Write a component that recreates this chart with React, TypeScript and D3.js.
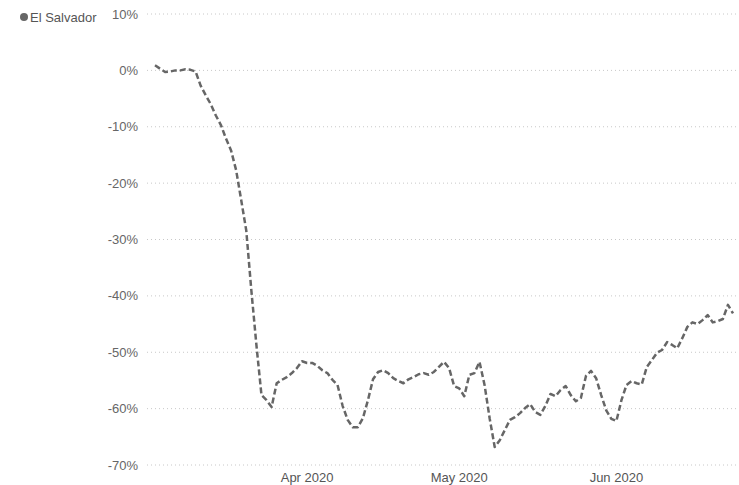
import React, { useRef, useEffect } from "react";
import * as d3 from "d3";

const seriesName = "El Salvador";
const startDate = new Date(2020, 2, 2);
// daily change vs baseline, in %
const values = [
  0.9, 0.3, -0.3, -0.2, 0.0, 0.0, 0.2, 0.1, -0.2, -2.7,
  -4.4, -6.0, -8.0, -9.7, -12.1, -14.2, -17.7, -23.0, -28.4, -39.0,
  -48.7, -57.6, -58.5, -59.7, -55.5, -54.9, -54.4, -53.7, -52.8, -51.6,
  -51.9, -51.9, -52.4, -53.2, -53.7, -54.9, -55.8, -59.5, -62.0, -63.3,
  -63.3, -61.7, -58.5, -54.8, -53.5, -53.2, -53.7, -54.6, -55.1, -55.5,
  -54.8, -54.4, -53.9, -53.7, -54.0, -53.5, -52.6, -51.7, -52.8, -56.0,
  -56.4, -57.8, -54.0, -53.7, -51.7, -55.8, -61.7, -66.8, -65.6, -63.8,
  -62.0, -61.5, -60.8, -59.9, -59.2, -60.6, -61.1, -59.5, -57.4, -57.8,
  -56.7, -56.0, -57.6, -58.7, -58.1, -54.2, -53.3, -54.6, -57.6, -60.3,
  -61.8, -62.2, -58.5, -55.8, -55.1, -55.5, -55.7, -52.6, -51.4, -50.1,
  -49.6, -48.2, -48.7, -49.3, -47.5, -45.5, -44.7, -45.0, -44.3, -43.4,
  -44.7, -44.5, -44.1, -41.6, -43.1,
];
const yTicks = [10, 0, -10, -20, -30, -40, -50, -60, -70];
const xTickDates = [new Date(2020, 3, 1), new Date(2020, 4, 1), new Date(2020, 5, 1)];
const xTickLabels = ["Apr 2020", "May 2020", "Jun 2020"];

const App: React.FC = () => {
  const chartRef = useRef<SVGSVGElement | null>(null);

  useEffect(() => {
    if (!chartRef.current) return;
    const svg = d3.select(chartRef.current);
    svg.selectAll("*").remove();

    const width = 739;
    const height = 485;
    const font = "'Liberation Sans', Arial, sans-serif";

    const data = values.map((v, i) => ({ date: d3.timeDay.offset(startDate, i), value: v }));

    const x = d3
      .scaleTime()
      .domain([data[0].date, data[data.length - 1].date])
      .range([155, 733]);

    const y = d3.scaleLinear().domain([-70, 10]).range([465, 14]);

    // gridlines + y labels
    const yg = svg.append("g");
    yg.selectAll("line")
      .data(yTicks)
      .join("line")
      .attr("x1", 147)
      .attr("x2", width)
      .attr("y1", (d) => y(d))
      .attr("y2", (d) => y(d))
      .attr("stroke", "#c8c8c8")
      .attr("stroke-width", 1)
      .attr("stroke-dasharray", "1 3");
    yg.selectAll("text")
      .data(yTicks)
      .join("text")
      .attr("x", 138)
      .attr("y", (d) => y(d))
      .attr("dy", "0.35em")
      .attr("text-anchor", "end")
      .attr("font-family", font)
      .attr("font-size", 13)
      .attr("fill", "#666")
      .text((d) => `${d}%`);

    // x labels
    svg
      .append("g")
      .selectAll("text")
      .data(xTickDates)
      .join("text")
      .attr("x", (d) => x(d))
      .attr("y", 482)
      .attr("text-anchor", "middle")
      .attr("font-family", font)
      .attr("font-size", 13)
      .attr("fill", "#555")
      .text((_, i) => xTickLabels[i]);

    const line = d3
      .line<{ date: Date; value: number }>()
      .x((d) => x(d.date))
      .y((d) => y(d.value));

    svg
      .append("path")
      .datum(data)
      .attr("fill", "none")
      .attr("stroke", "#666")
      .attr("stroke-width", 2.5)
      .attr("stroke-dasharray", "6 3")
      .attr("stroke-linejoin", "round")
      .attr("d", line);

    // legend
    const lg = svg.append("g");
    lg.append("circle").attr("cx", 24).attr("cy", 17).attr("r", 4).attr("fill", "#666");
    lg.append("text")
      .attr("x", 30)
      .attr("y", 17)
      .attr("dy", "0.35em")
      .attr("font-family", font)
      .attr("font-size", 13)
      .attr("fill", "#555")
      .text(seriesName);
  }, []);

  return (
    <svg
      ref={chartRef}
      width={739}
      height={485}
      style={{ position: "absolute", left: 0, top: 0, display: "block", background: "#fff" }}
    />
  );
};

export default App;
